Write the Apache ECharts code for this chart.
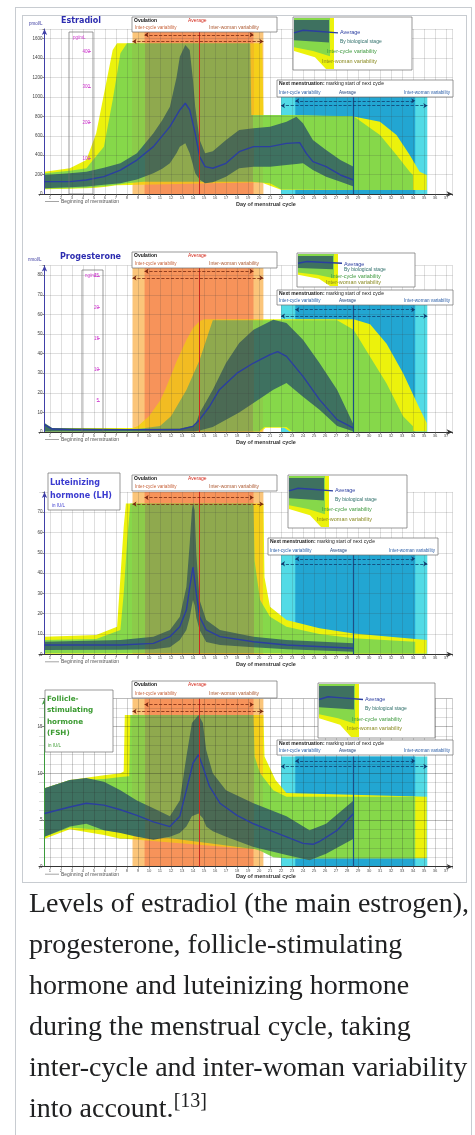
<!doctype html>
<html>
<head>
<meta charset="utf-8">
<title>Hormone levels during the menstrual cycle</title>
<style>
  body { margin: 0; background: #fff; }
  .thumb { position: absolute; left: 15px; top: 7px; width: 455px; height: 1140px; border: 1px solid #c8ccd1; background: #fff; }
  .thumbimage { position: absolute; left: 22px; top: 15px; width: 443px; height: 866px; border: 1px solid #c8ccd1; background: #fff; }
  #main { position: absolute; left: 0; top: 0; width: 475px; height: 884px; }
  .caption { position: absolute; left: 29px; top: 882px; font-family: 'Liberation Serif', 'Times New Roman', serif; font-size: 28px; line-height: 41px; color: #202122; white-space: nowrap; }
  .caption sup { font-size: 20px; line-height: 0; vertical-align: 10px; }
</style>
</head>
<body>
<div class="thumb"></div>
<div class="thumbimage"></div>
<div id="main"></div>
<div class="caption">Levels of estradiol (the main estrogen),<br>progesterone, follicle-stimulating<br>hormone and luteinizing hormone<br>during the menstrual cycle, taking<br>inter-cycle and inter-woman variability<br>into account.<sup>[13]</sup></div>
<script src="https://cdn.jsdelivr.net/npm/echarts@6/dist/echarts.min.js"></script>
<script>
// days of the cycle
var ovulationDay = 14.6;
var nextMensDay = 28.6;
var ovulationCycle = [9.6, 19.5];   // inter-cycle variability
var ovulationWoman = [8.5, 20.4];   // inter-woman variability
var mensCycle = [23.3, 34.2];
var mensWoman = [22, 35.3];

// estradiol, pmol/L  ([day, value] and [day, low, high])
var e2Average = [[0.5,127],[2.8,127],[4.3,144],[5.9,179],[7.4,247],[8.9,350],[10.4,488],[11.9,694],[12.8,866],[13.3,935],[13.7,866],[14.2,625],[14.6,385],[15.1,282],[15.8,265],[17,316],[18.2,436],[19.5,488],[21,488],[22.5,522],[23.7,529],[24.3,419],[24.9,333],[26.1,282],[27.4,196],[28.6,144]];
var e2Stage = [[0.5,58,196],[2.8,70,215],[4.3,76,230],[5.9,95,270],[7.4,110,316],[8.9,150,419],[10.4,213,625],[11.2,260,760],[11.9,316,900],[12.5,420,1200],[12.8,488,1415],[13.3,522,1536],[13.7,419,1484],[14.0,300,1175],[14.2,213,900],[14.6,150,560],[15.1,110,420],[15.8,120,440],[17,179,557],[18.2,265,660],[19.5,282,677],[21,282,694],[22.5,299,745],[23.4,310,797],[24.0,316,728],[24.9,247,557],[26.1,179,454],[27.4,127,350],[28.6,76,282]];
var e2Cycle = [[0.5,55,213],[2.8,60,240],[4.3,65,265],[5.9,80,488],[6.7,90,969],[7.4,100,1450],[8.0,110,1553],[9.5,127,1553],[19.2,127,1553],[19.3,127,814],[21,110,814],[22,50,814],[28.6,41,800],[31,41,608],[32.5,41,402],[33.7,41,230],[34.0,41,196]];
var e2Woman = [[0.5,50,230],[2.8,55,265],[4.3,60,350],[5.2,65,625],[6.1,75,1140],[6.7,85,1484],[7.1,90,1553],[20.3,120,1553],[20.4,110,814],[22,45,814],[28.7,41,797],[31,41,745],[32.5,41,608],[33.7,41,402],[34.6,41,230],[35.25,41,196]];

// progesterone, nmol/L
var p4Average = [[0.5,3.7],[1.2,1.5],[3,1.2],[8,1.2],[12.8,1.2],[14,2.9],[14.6,6.3],[15.5,13],[16.4,21.6],[18,30],[19.5,35.2],[21,39.5],[21.7,41],[22.5,38.6],[24,28.4],[25.5,16.5],[27.1,6.3],[28.6,2]];
var p4Stage = [[0.5,0.3,4.6],[1.2,0.3,2],[8,0.3,1.5],[12.8,0.3,1.8],[14.2,0.4,3.5],[14.6,0.8,9.7],[15.8,2.5,21.6],[17,6.3,35.2],[18.2,10,45.4],[19.5,14.8,52.2],[21.3,21.6,57.3],[22.5,25,55.6],[24,18,47.1],[25.5,11.4,35.2],[27.1,3,21.6],[28.6,0.3,3.7]];
var p4Cycle = [[0.5,0.3,1.5],[9,0.3,1.5],[11,0.3,3],[12,0.3,8],[13.4,0.3,21.4],[14.6,0.3,36.7],[15.5,0.3,52],[15.8,0.3,57],[20,0.3,57],[20.5,2.5,57],[22.5,2.5,57],[23,0.3,57],[27.1,0.3,57],[28.6,0.3,52.2],[30.1,0.3,38.4],[31.6,0.3,24.8],[33.1,0.3,8],[34.0,0.3,2.9]];
var p4Woman = [[0.5,0.2,2],[8.5,0.2,2],[9,0.2,3],[10,0.2,8],[11,0.2,16],[11.5,0.2,22],[12.5,0.2,36],[13.4,0.2,47],[14,0.2,53],[14.6,0.2,56.5],[15,0.2,57.5],[20.2,0.2,57.5],[20.6,2.2,57.5],[22.3,2.2,57.5],[22.8,0.2,57.5],[28.6,0.2,57.5],[30.1,0.2,55],[31.6,0.2,45],[33.1,0.2,30],[34.6,0.2,12],[35.25,0.2,4.6]];

// luteinizing hormone, IU/L
var lhAverage = [[0.5,4.6],[7.4,4.6],[10.4,5.4],[11.9,8.7],[12.8,13.6],[13.4,21.8],[13.7,33],[14.0,43],[14.3,30],[14.6,18.5],[15.2,12],[16.45,8.7],[19.5,6.2],[22.5,4.6],[28.6,3]];
var lhStage = [[0.5,2.1,6.2],[7.4,2.3,7],[10.4,2.5,8.7],[11.9,3.5,12],[12.8,7,18.5],[13.4,12,33.3],[13.7,18,54.6],[13.9,24,71],[14.0,26.7,74.3],[14.15,24,71],[14.3,18,49.7],[14.6,12,26.7],[15.2,6,16.9],[16.45,4.6,12],[19.5,3.5,8.7],[22.5,2.5,7],[28.6,1.3,5.4]];
var lhCycle = [[0.5,0.5,7],[5.2,0.5,7.5],[7.4,0.5,12],[7.7,0.5,30],[8.0,0.5,55],[8.3,0.5,74.3],[19.5,0.5,74.3],[19.6,0.5,46],[20.1,0.5,26.7],[21,0.5,18.5],[22.5,0.5,13.6],[25.5,0.5,10],[28.6,0.5,7.9],[34.2,0.5,6.2]];
var lhWoman = [[0.5,0.3,8.7],[5.2,0.3,9.5],[7.1,0.3,13.6],[7.4,0.3,38],[7.7,0.3,62.8],[7.9,0.3,74.3],[20.4,0.3,74.3],[20.5,0.3,38],[21,0.3,23.4],[22.5,0.3,16.9],[25.5,0.3,12.8],[28.6,0.3,10.3],[35.25,0.3,7]];

// follicle-stimulating hormone, IU/L
var fshAverage = [[0.5,5.7],[2.8,6.4],[4.3,6.8],[5.9,6.6],[7.4,6.1],[8.9,5.5],[10.4,4.8],[11.9,4.3],[12.8,5.4],[13.4,8.2],[14.0,11.1],[14.5,12],[14.9,10.7],[15.5,8.6],[16.45,6.8],[18,5.5],[19.5,4.6],[21,3.9],[22.5,3.2],[24,2.5],[24.9,2.4],[25.5,2.7],[27.1,3.9],[28.6,5.7]];
var fshStage = [[0.5,3.2,8.4],[2.8,4.3,9.3],[4.3,4.6,9.5],[5.9,3.9,9.1],[7.4,3.6,8.2],[8.9,3.2,7.1],[10.4,2.9,6.25],[11.9,3.2,5.4],[12.8,3.6,7.1],[13.4,4.3,11.8],[13.9,5.4,15.4],[14.5,5.7,16.25],[14.9,5.2,15.4],[15.2,4.3,12.5],[15.8,3.8,10],[17,3.2,8.2],[19.5,2.1,6.8],[22.5,1.25,5.4],[24.6,0.7,3.9],[26.1,1.4,4.6],[28.6,3,7.1]];
var fshCycle = [[0.5,3.2,8.4],[2.8,4.2,9.3],[5.9,3.9,9.4],[7.4,3.7,9.6],[8.2,3.6,9.7],[8.3,3.6,16.25],[19.5,1.9,16.25],[19.6,1.9,11.8],[20.1,1.7,10],[21.3,1.0,8.2],[22.5,0.9,7.5],[34.2,0.9,7.5]];
var fshWoman = [[0.5,3.0,8.4],[2.8,4.0,9.3],[5.9,3.4,9.8],[7.4,3.0,10],[7.7,3.0,10.2],[7.8,3.0,16.25],[20.4,1.8,16.25],[20.5,1.8,11.8],[21.5,1.2,9.3],[22.5,0.9,7.9],[35.25,0.9,7.5]];

// secondary (pink) axes
var e2PerPg = 3.671;          // pmol/L per pg/mL
var p4PerNg = 3.18;           // nmol/L per ng/mL
var e2PinkTicks = [100, 200, 300, 400];
var p4PinkTicks = [5, 10, 15, 20, 25];

var panels = [
  {avg: e2Average, stage: e2Stage, cycle: e2Cycle, woman: e2Woman, yMax: 1700, yStep: 200, yLabelMax: 1600, nextTop: 1000, top: 29, bottom: 194, axisColor: '#4040a8'},
  {avg: p4Average, stage: p4Stage, cycle: p4Cycle, woman: p4Woman, yMax: 85, yStep: 10, yLabelMax: 80, nextTop: 65, top: 265.4, bottom: 432, axisColor: '#4040a8'},
  {avg: lhAverage, stage: lhStage, cycle: lhCycle, woman: lhWoman, yMax: 80, yStep: 10, yLabelMax: 70, nextTop: 49, top: 491.9, bottom: 654.3, axisColor: '#4040a8'},
  {avg: fshAverage, stage: fshStage, cycle: fshCycle, woman: fshWoman, yMax: 18, yStep: 5, yLabelMax: 15, nextTop: 11.8, top: 698.7, bottom: 866.7, axisColor: '#3c9a3c', minor: true}
];

var windowColors = ['#fbc57a', '#f7935a', '#52dbe6', '#22a6d2'];
var yellowTone = {base: '#ecf20c', edge: '#f5cf1a', mid: '#f2bc22'};
var greenTone = {base: '#86d84a', edge: '#8ccb4a', mid: '#8fa94e'};
var stageTone = {base: '#3e7160', edge: '#3e7160', mid: '#4b6a54'};
var FONT = 'Liberation Sans, Arial, sans-serif';
var TITLE_FONT = 'DejaVu Sans, Verdana, sans-serif';

var chart = echarts.init(document.getElementById('main'));

function windowSeries(i, p) {
  var rows = [
    [ovulationWoman[0], ovulationWoman[1], p.yMax, 0],
    [ovulationCycle[0], ovulationCycle[1], p.yMax, 1],
    [mensWoman[0], mensWoman[1], p.nextTop, 2],
    [mensCycle[0], mensCycle[1], p.nextTop, 3]
  ];
  return {
    type: 'custom', xAxisIndex: i, yAxisIndex: i, z: 1, silent: true,
    encode: {x: [0, 1], y: 2},
    data: rows,
    renderItem: function (params, api) {
      var a = api.coord([api.value(0), 0]);
      var b = api.coord([api.value(1), api.value(2)]);
      return {
        type: 'rect',
        shape: {x: a[0], y: b[1], width: b[0] - a[0], height: a[1] - b[1]},
        style: {fill: windowColors[api.value(3)]}
      };
    }
  };
}

// a variability band: one polygon through the high values and back along the low values
function bandSeries(i, rows, tone) {
  var first = rows[0][0], last = rows[rows.length - 1][0];
  function off(d) { return Math.min(1, Math.max(0, (d - first) / (last - first))); }
  var cuts = [ovulationWoman[0], ovulationCycle[0], ovulationCycle[1], ovulationWoman[1], last];
  var cols = [tone.base, tone.edge, tone.mid, tone.edge, tone.base];
  var stops = [], prev = 0;
  for (var k = 0; k < 5; k++) {
    var end = off(cuts[k]);
    stops.push({offset: prev, color: cols[k]}, {offset: end, color: cols[k]});
    prev = end;
  }
  return {
    type: 'custom', xAxisIndex: i, yAxisIndex: i, z: 2, silent: true, clip: true,
    encode: {x: 0, y: [1, 2]},
    data: rows,
    renderItem: function (params, api) {
      if (params.dataIndex !== 0) return null;
      var pts = [];
      rows.forEach(function (r) { pts.push(api.coord([r[0], r[2]])); });
      rows.slice().reverse().forEach(function (r) { pts.push(api.coord([r[0], r[1]])); });
      return {
        type: 'polygon',
        shape: {points: pts},
        style: {fill: {type: 'linear', x: 0, y: 0, x2: 1, y2: 0, colorStops: stops}}
      };
    }
  };
}

function averageSeries(i, p) {
  var arrow = function (x0, x1, y, color) {
    return [{coord: [x0, y], symbol: 'arrow', lineStyle: {color: color, width: 0.8}}, {coord: [x1, y], symbol: 'arrow'}];
  };
  return {
    type: 'line', xAxisIndex: i, yAxisIndex: i, z: 4, silent: true,
    symbol: 'none', lineStyle: {color: '#2b3ea0', width: 1.4},
    data: p.avg,
    markLine: {
      silent: true, symbol: 'none', symbolSize: 4, label: {show: false}, animation: false,
      data: [
        [{coord: [ovulationDay, 0], lineStyle: {color: '#cc2a1e', width: 1, type: 'solid'}}, {coord: [ovulationDay, p.yMax]}],
        [{coord: [nextMensDay, 0], lineStyle: {color: '#1d4f86', width: 1.2, type: 'solid'}}, {coord: [nextMensDay, p.nextTop]}],
        arrow(ovulationCycle[0], ovulationCycle[1], p.yMax * 0.965, '#7a2a10'),
        arrow(ovulationWoman[0], ovulationWoman[1], p.yMax * 0.925, '#7a2a10'),
        arrow(mensCycle[0], mensCycle[1], p.nextTop * 0.96, '#0f3f70'),
        arrow(mensWoman[0], mensWoman[1], p.nextTop * 0.91, '#0f3f70')
      ]
    }
  };
}

var grids = [], xAxes = [], yAxes = [], series = [];
panels.forEach(function (p, i) {
  grids.push({left: 39, right: 22.4, top: p.top, height: p.bottom - p.top});
  xAxes.push({
    gridIndex: i, type: 'value', min: 0, max: 37.6, interval: 1, z: 3,
    axisLine: {symbol: ['none', 'arrow'], symbolSize: [4, 6], lineStyle: {color: '#333', width: 1}},
    axisTick: {length: 2, lineStyle: {color: '#555', width: 0.6}},
    axisLabel: {fontSize: 4.2, margin: 2, color: '#555', fontFamily: FONT,
      formatter: function (v) { return (v >= 1 && v <= 37 && v % 1 === 0) ? String(v) : ''; }},
    splitLine: {show: true, showMinLine: false, lineStyle: {color: p.minor ? 'rgba(40,40,40,0.38)' : 'rgba(60,60,60,0.28)', width: 0.6}}
  });
  yAxes.push({
    gridIndex: i, type: 'value', min: 0, max: p.yMax, interval: p.yStep, offset: -5.5, z: 3,
    axisLine: {show: true, symbol: ['none', 'arrow'], symbolSize: [4, 6], lineStyle: {color: p.axisColor, width: 1}},
    axisTick: {show: true, length: 2, lineStyle: {color: '#555', width: 0.6}},
    axisLabel: {fontSize: 4.5, margin: 2, color: '#444', fontFamily: FONT,
      formatter: function (v) { return v > p.yLabelMax ? '' : String(v); }},
    splitLine: {show: true, lineStyle: {color: p.minor ? 'rgba(30,30,30,0.5)' : 'rgba(60,60,60,0.28)', width: 0.6}},
    minorTick: {show: false, splitNumber: 5},
    minorSplitLine: {show: !!p.minor, lineStyle: {color: 'rgba(40,40,40,0.3)', width: 0.5}}
  });
  series.push(windowSeries(i, p));
  series.push(bandSeries(i, p.woman, yellowTone));
  series.push(bandSeries(i, p.cycle, greenTone));
  series.push(bandSeries(i, p.stage, stageTone));
  series.push(averageSeries(i, p));
});

// pink secondary axes (pg/mL and ng/mL)
function pinkAxis(gi, max, ticks, offset) {
  var top = ticks[ticks.length - 1];
  return {
    gridIndex: gi, type: 'value', position: 'left', offset: offset, min: 0, max: max,
    interval: ticks[0], z: 3,
    axisLine: {show: false},
    axisTick: {show: true, length: 3, customValues: ticks, lineStyle: {color: '#cc33cc', width: 0.7}},
    axisLabel: {fontSize: 4.5, margin: 1, color: '#cc33cc', fontFamily: FONT, customValues: ticks,
      formatter: function (v) { return (v > 0 && v <= top) ? String(v) : ''; }},
    splitLine: {show: false}
  };
}
yAxes.push(pinkAxis(0, panels[0].yMax / e2PerPg, e2PinkTicks, -52));
yAxes.push(pinkAxis(1, panels[1].yMax / p4PerNg, p4PinkTicks, -61));

// decorations: titles, boxes, legend
function text(x, y, s, size, color, bold, align, font) {
  return {type: 'text', z: 21, silent: true, x: x, y: y,
    style: {text: s, fontSize: size, fontFamily: font || FONT, fontWeight: bold ? 'bold' : 'normal',
      fill: color, align: align || 'left', verticalAlign: 'top'}};
}
function box(b, fill) {
  return {type: 'rect', z: 20, silent: true, shape: {x: b[0], y: b[1], width: b[2], height: b[3]},
    style: {fill: fill === undefined ? '#fff' : fill, stroke: '#6f6f6f', lineWidth: 0.7}};
}
function poly(points, fill) {
  return {type: 'polygon', z: 20, silent: true, shape: {points: points}, style: {fill: fill}};
}

var layout = [
  {ov: [132, 17, 145, 15], leg: [293, 17, 119, 53], next: [277, 80, 176, 17]},
  {ov: [132, 252, 145, 16], leg: [297, 253, 118, 34], next: [277, 290, 176, 15]},
  {ov: [132, 475, 145, 16], leg: [288, 475, 119, 53], next: [268, 538, 170, 17]},
  {ov: [132, 681, 145, 17], leg: [318, 683, 117, 55], next: [277, 740, 176, 15]}
];

var graphic = [];
layout.forEach(function (L, i) {
  var p = panels[i];
  var o = L.ov;
  graphic.push(box(o));
  graphic.push(text(o[0] + 2, o[1] + 1.5, 'Ovulation', 5, '#111', true));
  graphic.push(text(o[0] + 56, o[1] + 1, 'Average', 5, '#d42a1c'));
  graphic.push(text(o[0] + 3, o[1] + o[3] - 7, 'Inter-cycle variability', 4.6, '#c8643c'));
  graphic.push(text(o[0] + 77, o[1] + o[3] - 7, 'Inter-woman variability', 5, '#b0603a'));

  var n = L.next;
  graphic.push(box(n));
  graphic.push({type: 'text', z: 21, silent: true, x: n[0] + 2, y: n[1] + 1.5,
    style: {text: '{b|Next menstruation:} marking start of next cycle', fontSize: 5, fontFamily: FONT,
      fill: '#222', verticalAlign: 'top', rich: {b: {fontWeight: 'bold', fontSize: 5, fontFamily: FONT}}}});
  graphic.push(text(n[0] + 2, n[1] + n[3] - 7, 'Inter-cycle variability', 4.6, '#2c5fa8'));
  graphic.push(text(n[0] + 62, n[1] + n[3] - 7, 'Average', 4.6, '#1d3f7a'));
  graphic.push(text(n[0] + n[2] - 3, n[1] + n[3] - 7, 'Inter-woman variability', 4.6, '#2c5fa8', false, 'right'));

  var q = L.leg, x = q[0], y = q[1], w = q[2], h = q[3];
  graphic.push(box(q));
  graphic.push(poly([[x + 1, y + 1], [x + 41, y + 1], [x + 41, y + h - 1], [x + 1, y + h - 1]], '#ecf20c'));
  graphic.push(poly([[x + 1, y + 1], [x + 37, y + 1], [x + 37, y + h * 0.74], [x + 20, y + h * 0.64], [x + 1, y + h * 0.57]], '#86d84a'));
  graphic.push(poly([[x + 1, y + h * 0.64], [x + 22, y + h * 0.76], [x + 33, y + h - 1], [x + 1, y + h - 1]], '#fff'));
  graphic.push(poly([[x + 1, y + 3], [x + 36, y + 3], [x + 36, y + h * 0.48], [x + 1, y + h * 0.44]], '#3e7160'));
  graphic.push({type: 'polyline', z: 21, silent: true,
    shape: {points: [[x + 1, y + h * 0.3], [x + 10, y + h * 0.25], [x + 24, y + h * 0.27], [x + 45, y + h * 0.3]]},
    style: {stroke: '#2b3ea0', lineWidth: 1.4, fill: null}});
  graphic.push(text(x + 47, y + h * 0.24, 'Average', 5.5, '#2b3ea0'));
  graphic.push(text(x + 47, y + h * 0.42, 'By biological stage', 5, '#2f6f6a'));
  graphic.push(text(x + 34, y + h * 0.6, 'Inter-cycle variability', 5.5, '#3f9a3f'));
  graphic.push(text(x + 29, y + h * 0.78, 'Inter-woman variability', 5.5, '#8a8a20'));

  // under the x axis
  graphic.push({type: 'line', z: 21, silent: true, shape: {x1: 45, y1: p.bottom + 7.5, x2: 59, y2: p.bottom + 7.5},
    style: {stroke: '#666', lineWidth: 0.6}});
  graphic.push(text(61, p.bottom + 5, 'Beginning of menstruation', 5, '#555'));
  graphic.push(text(236, p.bottom + 7, 'Day of menstrual cycle', 5.5, '#333', true));
});

// titles and units
graphic.push(text(61, 17, 'Estradiol', 8, '#2d2db0', true, 'left', TITLE_FONT));
graphic.push(text(29, 21, 'pmol/L', 4.5, '#3a3aa0'));
graphic.push(box([69, 32, 24, 162], null));
graphic.push(text(73, 35, 'pg/mL', 4.5, '#cc33cc'));

graphic.push(text(60, 253, 'Progesterone', 8, '#2d2db0', true, 'left', TITLE_FONT));
graphic.push(text(28, 257, 'nmol/L', 4.5, '#3a3aa0'));
graphic.push(box([82, 270, 21, 162], null));
graphic.push(text(85, 273, 'ng/mL', 4.5, '#cc33cc'));

graphic.push(box([48, 473, 72, 37]));
graphic.push({type: 'text', z: 21, silent: true, x: 50, y: 476,
  style: {text: 'Luteinizing\nhormone (LH)', fontSize: 8, lineHeight: 13, fontFamily: TITLE_FONT,
    fontWeight: 'bold', fill: '#3b3bd0', verticalAlign: 'top'}});
graphic.push(text(52, 503, 'in IU/L', 4.5, '#3b3bd0'));

graphic.push(box([45, 690, 68, 62]));
graphic.push({type: 'text', z: 21, silent: true, x: 47, y: 693,
  style: {text: 'Follicle-\nstimulating\nhormone\n(FSH)', fontSize: 7.2, lineHeight: 11.6, fontFamily: TITLE_FONT,
    fontWeight: 'bold', fill: '#3a9a30', verticalAlign: 'top'}});
graphic.push(text(48, 743, 'in IU/L', 4.5, '#3a9a30'));

chart.setOption({
  animation: false,
  grid: grids,
  xAxis: xAxes,
  yAxis: yAxes,
  series: series,
  graphic: graphic
});

window.addEventListener('resize', function () {
  chart.resize();
});
</script>
</body>
</html>
